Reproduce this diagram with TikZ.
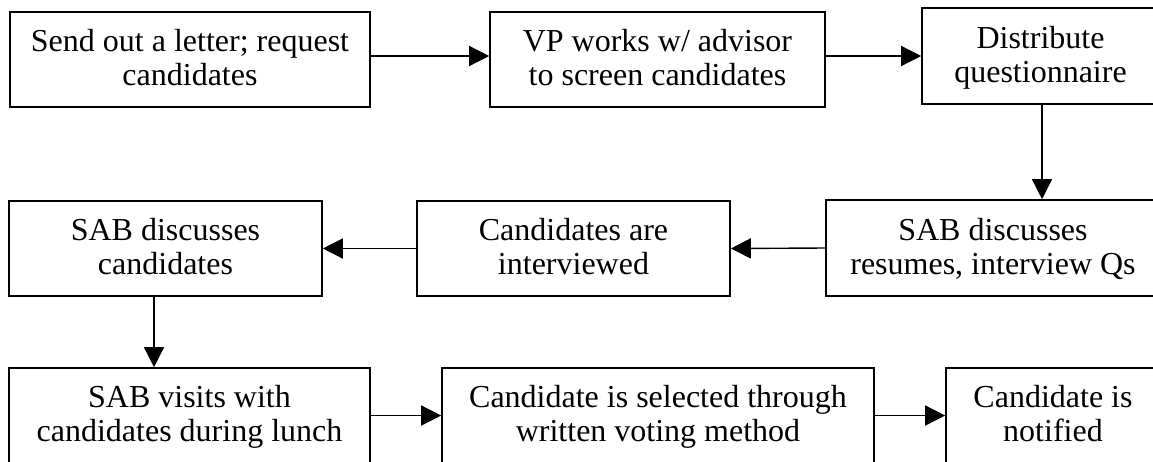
\documentclass[tikz,border=0pt]{standalone}
\usepackage{fontspec}
\setmainfont{Liberation Serif}
\usetikzlibrary{arrows.meta}

% two centred lines with fixed first-line height and last-line depth,
% so every box places its text at the same height
\newcommand{\twolines}[2]{\rule{0pt}{25pt}#1\\#2\rule[-7pt]{0pt}{7pt}}

\begin{document}
\begin{tikzpicture}[x=1pt,y=-1pt,
  stepbox/.style={draw=black, line width=1.6pt, rectangle, inner sep=0pt,
    align=center, minimum height=95pt,
    font=\fontsize{32}{34}\selectfont},
  flow/.style={line width=1.4pt, -{Triangle[length=20pt,width=20pt]}}]
  \clip (0,0) rectangle (1153,461);
  \fill[white] (0,0) rectangle (1153,461);

  % first row
  \node[stepbox, minimum width=360pt] (b1) at (190,59.5)
    {\twolines{Send out a letter; request}{candidates}};
  \node[stepbox, minimum width=335pt] (b2) at (657.5,59.5)
    {\twolines{VP works w/ advisor}{to screen candidates}};
  \node[stepbox, minimum width=237pt, minimum height=96pt] (b3) at (1040.5,56)
    {\twolines{Distribute}{questionnaire}};

  % second row
  \node[stepbox, minimum width=313pt] (b4) at (165.5,248.5)
    {\twolines{SAB discusses}{candidates}};
  \node[stepbox, minimum width=313pt] (b5) at (573.5,248.5)
    {\twolines{Candidates are}{interviewed}};
  \node[stepbox, minimum width=334pt, minimum height=96pt] (b6) at (993,248)
    {\twolines{SAB discusses}{resumes, interview Qs}};

  % third row
  \node[stepbox, minimum width=361pt] (b7) at (189.5,415.5)
    {\twolines{SAB visits with}{candidates during lunch}};
  \node[stepbox, minimum width=432pt] (b8) at (658,415.5)
    {\twolines{Candidate is selected through}{written voting method}};
  \node[stepbox, minimum width=214pt] (b9) at (1053,415.5)
    {\twolines{Candidate is}{notified}};

  % columns of the vertical connectors
  \coordinate (c1) at (1042,0);
  \coordinate (c2) at (154,0);

  % connectors
  \draw[flow] (b1.east |- b3) -- (b2.west |- b3);
  \draw[flow] (b2.east |- b3) -- (b3.west);
  \draw[flow] (b3.south -| c1) -- (b6.north -| c1);
  \draw[flow] (b6.west) -- (b5.east);
  \draw[flow] (b5.west) -- (b4.east);
  \draw[flow] (b4.south -| c2) -- (b7.north -| c2);
  \draw[flow] (b7.east) -- (b8.west);
  \draw[flow] (b8.east) -- (b9.west);
\end{tikzpicture}
\end{document}
